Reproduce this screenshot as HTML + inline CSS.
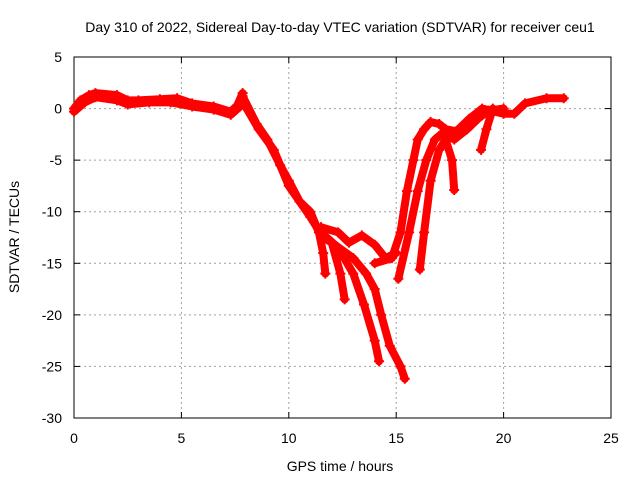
<!DOCTYPE html>
<html><head><meta charset="utf-8"><style>
body{margin:0;background:#fff;font-family:"Liberation Sans",sans-serif}
svg text{font-family:"Liberation Sans",sans-serif;font-size:14px;fill:#000}
</style></head><body>
<svg id="c" width="640" height="480"></svg>
<script>
const xTicks=[0,5,10,15,20,25];
const yTicks=[5,0,-5,-10,-15,-20,-25,-30];
const trackCommon=[[0,0],[0.3,0.8],[0.7,1.3],[1,1.5],[2,1.3],[2.5,0.8],[3,0.8],[4,0.9],[4.8,1],[5.5,0.5],[6.5,0.2],[7.3,-0.3],[7.6,0.3],[7.85,1.5]];
const trackCommon2=[[0,-0.3],[0.5,0.6],[1,1.1],[2,0.8],[2.5,0.4],[3.5,0.6],[4.5,0.6],[5.5,0.2],[6.5,-0.1],[7.3,-0.6],[7.9,0.5]];
const track1=[[7.85,1.2],[8.5,-1.5],[9,-3],[9.6,-5.5],[10,-7],[10.5,-9],[11,-10],[11.4,-12],[11.6,-14],[11.7,-16]];
const track2=[[7.9,0.5],[8.6,-2],[9.3,-4],[10,-7.5],[10.5,-9],[11,-10.5],[11.6,-12.5],[12,-13],[12.4,-16],[12.6,-18.5]];
const track3=[[11.5,-12],[12.3,-13.5],[13,-16],[13.5,-19],[14,-22.5],[14.2,-24.5]];
const track4=[[12,-13],[13,-14.5],[13.6,-16],[14,-17.5],[14.3,-20],[14.7,-23],[15.2,-25],[15.4,-26.2]];
const trackBubble=[[11.5,-11.5],[12.3,-12],[12.8,-13],[13.4,-12.3],[14,-13.2],[14.5,-14.5],[15,-14]];
const trackR1=[[14,-15],[14.8,-14.5],[15.2,-12],[15.5,-8],[15.8,-5],[16,-3],[16.3,-2],[16.6,-1.3],[17,-1.5],[17.3,-2],[17.8,-2.2],[18.4,-1],[19,0],[20,-0.5],[20.5,-0.5],[21,0.5],[22,1],[22.8,1]];
const trackR2=[[15.1,-16.5],[15.6,-12],[16,-8],[16.4,-5],[16.8,-3],[17.2,-2.3],[17.7,-3],[18.3,-2],[18.8,-1],[19.3,-0.2],[20,0]];
const trackR3=[[16.1,-15.6],[16.3,-12],[16.6,-7],[17,-4],[17.3,-3],[17.6,-5],[17.7,-7.9]];
const trackR4=[[18.95,-4],[19.2,-2],[19.5,0]];
const tracks=[trackCommon,trackCommon2,track1,track2,track3,track4,trackBubble,trackR1,trackR2,trackR3,trackR4];
const X0=74,X1=611,Y0=57,Y1=418;
const xs=v=>X0+(v-0)/25*(X1-X0);
const ys=v=>Y0+(5-v)/35*(Y1-Y0);
const svg=document.getElementById('c');const NS='http://www.w3.org/2000/svg';
function mk(t,a){const e=document.createElementNS(NS,t);for(const k in a)e.setAttribute(k,a[k]);svg.appendChild(e);return e;}
xTicks.forEach(t=>{const x=xs(t);
 if(t>0&&t<25){const g=mk('line',{x1:x,y1:Y0,x2:x,y2:Y1,stroke:'#a0a0a0','stroke-dasharray':'2,3'});
 
 }
 const tx=mk('text',{x:x,y:443,'text-anchor':'middle'});tx.textContent=t;
 
 
 mk('line',{x1:x,y1:Y1,x2:x,y2:Y1-6,stroke:'#000'});mk('line',{x1:x,y1:Y0,x2:x,y2:Y0+6,stroke:'#000'});});
yTicks.forEach(t=>{const y=ys(t);
 if(t<5&&t>-30){const g=mk('line',{x1:X0,y1:y,x2:X1,y2:y,stroke:'#a0a0a0','stroke-dasharray':'2,3'});
 
 }
 const tx=mk('text',{x:62,y:y+5,'text-anchor':'end'});tx.textContent=t;
 
 
 mk('line',{x1:X0,y1:y,x2:X0+6,y2:y,stroke:'#000'});mk('line',{x1:X1,y1:y,x2:X1-6,y2:y,stroke:'#000'});});
const fr=mk('rect',{x:X0,y:Y0,width:X1-X0,height:Y1-Y0,fill:'none',stroke:'#000'});


tracks.forEach(tr=>{
 const p=mk('polyline',{points:tr.map(d=>xs(d[0])+','+ys(d[1])).join(' '),fill:'none',stroke:'#ff0000','stroke-width':8,'stroke-linejoin':'round','stroke-linecap':'round'});
 
 
 tr.forEach(d=>{const x=xs(d[0]),y=ys(d[1]);
  mk('path',{d:`M${x-5},${y}H${x+5}M${x},${y-5}V${y+5}`,stroke:'#ff0000','stroke-width':2});});
});
const ti=mk('text',{x:340,y:32,'text-anchor':'middle'});ti.textContent='Day 310 of 2022, Sidereal Day-to-day VTEC variation (SDTVAR) for receiver ceu1';


const xl=mk('text',{x:340,y:471,'text-anchor':'middle'});xl.textContent='GPS time / hours';


const yl=mk('text',{x:19,y:237,'text-anchor':'middle',transform:'rotate(-90 19 237)'});yl.textContent='SDTVAR / TECUs';


</script>
</body></html>
